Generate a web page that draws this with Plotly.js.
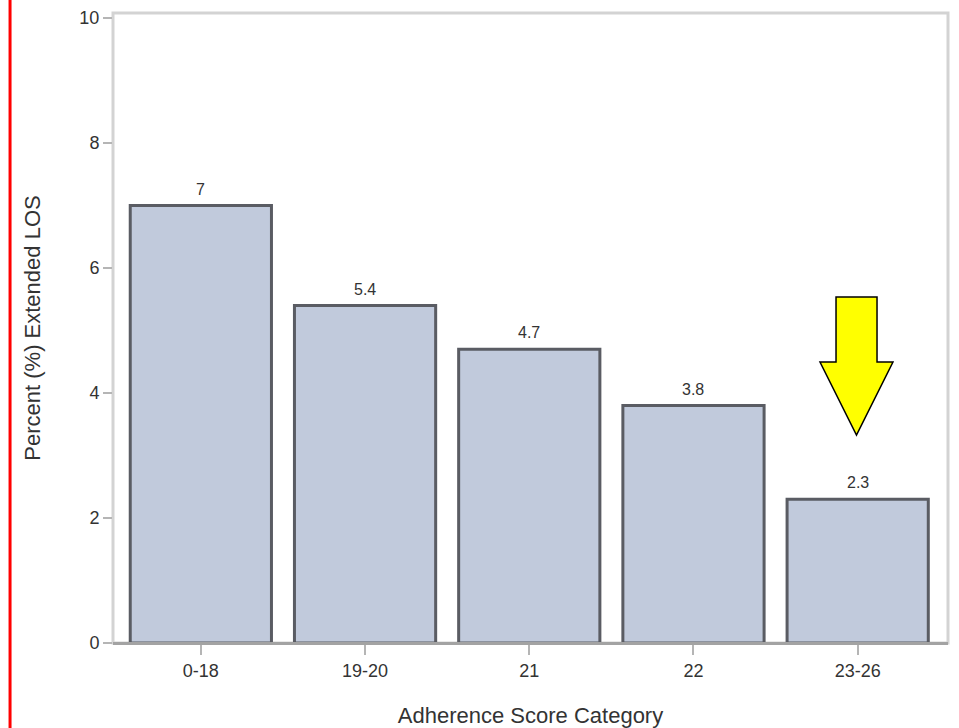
<!DOCTYPE html>
<html>
<head>
<meta charset="utf-8">
<script src="https://cdn.plot.ly/plotly-3.0.1.min.js"></script>
<style>
html,body{margin:0;padding:0;background:#fff;}
#chart{width:959px;height:728px;}
</style>
</head>
<body>
<div id="chart"></div>
<script>
const categories = ["0-18", "19-20", "21", "22", "23-26"];
const percentExtendedLOS = [7, 5.4, 4.7, 3.8, 2.3];
const barLabels = ["7", "5.4", "4.7", "3.8", "2.3"];
const yTickVals = [0, 2, 4, 6, 8, 10];

const trace = {
  type: "bar",
  x: categories,
  y: percentExtendedLOS,
  marker: {color: "#c1cadc", line: {color: "#5a5c63", width: 3}},
  width: 0.86,
  hoverinfo: "skip"
};

// category axes treat numeric-looking strings as indices, so place labels by index
const labelAnnotations = categories.map((c, i) => ({
  x: i, y: percentExtendedLOS[i], xref: "x", yref: "y",
  text: barLabels[i], showarrow: false, yanchor: "bottom", yshift: 6,
  font: {family: "Liberation Sans, Arial, sans-serif", size: 16, color: "#333"}
}));

// arrow in paper coords
const arrowPath = "M 0.8659 0.5492 L 0.9150 0.5492 L 0.9150 0.4460 L 0.9341 0.4460 L 0.8904 0.3302 L 0.8467 0.4460 L 0.8659 0.4460 Z";

const layout = {
  width: 959, height: 728,
  margin: {l: 113, r: 11, t: 13, b: 85},
  paper_bgcolor: "#fff", plot_bgcolor: "#fff",
  showlegend: false,
  font: {family: "Liberation Sans, Arial, sans-serif", color: "#333"},
  xaxis: {
    type: "category",
    range: [-0.535, 4.55],
    showgrid: false, zeroline: false,
    showline: true, linecolor: "#a3a3a3", linewidth: 2,
    ticks: "outside", ticklen: 10, tickcolor: "#b5b5b5", tickwidth: 2,
    tickfont: {size: 18, color: "#333"},
    title: {text: "Adherence Score Category", font: {size: 22, color: "#333"}, standoff: 28}
  },
  yaxis: {
    range: [0, 10.08],
    tickvals: yTickVals,
    showgrid: false, zeroline: false,
    showline: false,
    ticks: "outside", ticklen: 9, tickcolor: "#b5b5b5", tickwidth: 2,
    tickfont: {size: 18, color: "#333"},
    title: {text: "Percent (%) Extended LOS", font: {size: 22, color: "#333"}, standoff: 32}
  },
  annotations: labelAnnotations,
  shapes: [
    {type: "rect", xref: "paper", yref: "paper", x0: 0, x1: 1, y0: 0, y1: 1,
     line: {color: "#d3d3d3", width: 3}, layer: "below"},
    {type: "line", xref: "paper", yref: "paper", x0: 0, x1: 1, y0: 0, y1: 0,
     line: {color: "#a3a3a3", width: 2}, layer: "above"},
    {type: "path", xref: "paper", yref: "paper", path: arrowPath,
     fillcolor: "#ffff00", line: {color: "#000", width: 1.5}, layer: "above"},
    {type: "line", xref: "paper", yref: "paper", x0: -0.1233, x1: -0.1233, y0: -0.14, y1: 1.03,
     line: {color: "#ff0000", width: 3}}
  ]
};

Plotly.newPlot("chart", [trace], layout, {displayModeBar: false, staticPlot: true});
</script>
</body>
</html>
